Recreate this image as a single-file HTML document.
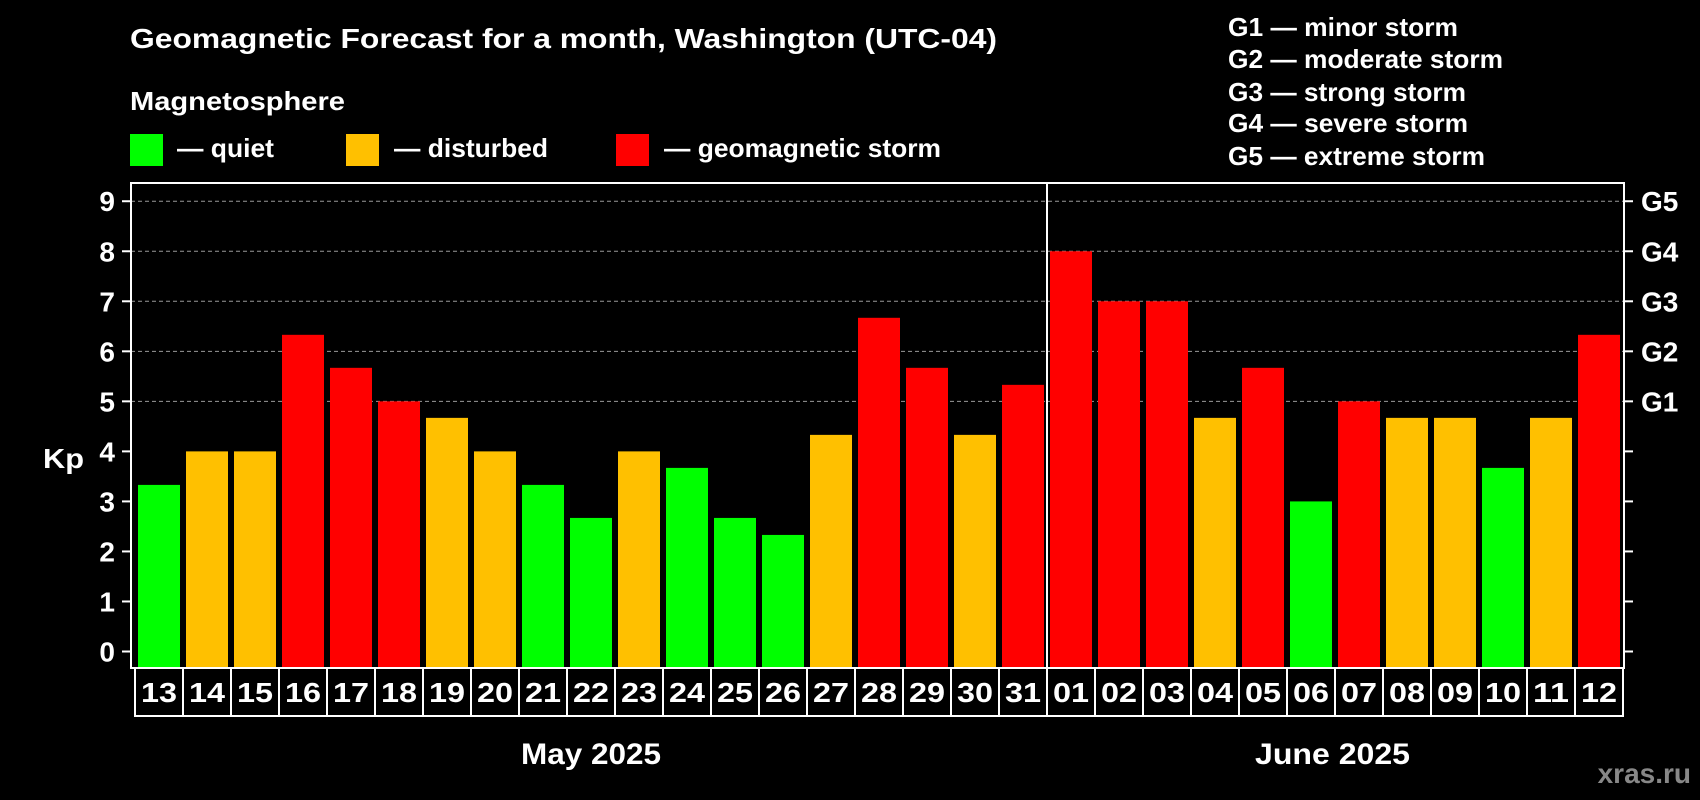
<!DOCTYPE html>
<html><head><meta charset="utf-8"><style>
html,body{margin:0;padding:0;background:#000;}
svg{display:block;font-family:"Liberation Sans",Arial,sans-serif;font-weight:bold;}
</style></head><body>
<svg id="chart" width="1700" height="800" viewBox="0 0 1700 800">
<rect width="1700" height="800" fill="#000"/>
<text x="130" y="48" font-size="28" fill="#fff" textLength="867" lengthAdjust="spacingAndGlyphs">Geomagnetic Forecast for a month, Washington (UTC-04)</text>
<text x="130" y="110" font-size="26" fill="#fff" textLength="215" lengthAdjust="spacingAndGlyphs">Magnetosphere</text>
<g><rect x="130" y="134" width="33" height="32" fill="#00ff00"/><text x="177" y="157" font-size="26" fill="#fff" textLength="97" lengthAdjust="spacingAndGlyphs">— quiet</text></g>
<g><rect x="346" y="134" width="33" height="32" fill="#ffc000"/><text x="394" y="157" font-size="26" fill="#fff" textLength="154" lengthAdjust="spacingAndGlyphs">— disturbed</text></g>
<g><rect x="616" y="134" width="33" height="32" fill="#ff0000"/><text x="664" y="157" font-size="26" fill="#fff" textLength="277" lengthAdjust="spacingAndGlyphs">— geomagnetic storm</text></g>
<g font-size="26" fill="#fff">
<text x="1228" y="36" textLength="230" lengthAdjust="spacingAndGlyphs">G1 — minor storm</text>
<text x="1228" y="68" textLength="275" lengthAdjust="spacingAndGlyphs">G2 — moderate storm</text>
<text x="1228" y="101" textLength="238" lengthAdjust="spacingAndGlyphs">G3 — strong storm</text>
<text x="1228" y="132" textLength="240" lengthAdjust="spacingAndGlyphs">G4 — severe storm</text>
<text x="1228" y="165" textLength="257" lengthAdjust="spacingAndGlyphs">G5 — extreme storm</text>
</g>
<g id="grid"></g>
<g id="bars"></g>
<g id="axes"></g>
<rect x="131" y="183" width="1493" height="485" fill="none" stroke="#fff" stroke-width="2"/>
<line x1="1047" y1="183" x2="1047" y2="716" stroke="#fff" stroke-width="2"/>
<text x="43" y="468" font-size="28" fill="#fff" textLength="41" lengthAdjust="spacingAndGlyphs">Kp</text>
<text x="521" y="764" font-size="30" fill="#fff" textLength="140" lengthAdjust="spacingAndGlyphs">May 2025</text>
<text x="1255" y="764" font-size="30" fill="#fff" textLength="155" lengthAdjust="spacingAndGlyphs">June 2025</text>
<text x="1691" y="783" font-size="28" fill="#888" text-anchor="end">xras.ru</text>
</svg>
<script>
const days = ["13","14","15","16","17","18","19","20","21","22","23","24","25","26","27","28","29","30","31","01","02","03","04","05","06","07","08","09","10","11","12"];
const kpValues = [3.33,4,4,6.33,5.67,5,4.67,4,3.33,2.67,4,3.67,2.67,2.33,4.33,6.67,5.67,4.33,5.33,8,7,7,4.67,5.67,3,5,4.67,4.67,3.67,4.67,6.33];
const yTicks = [0,1,2,3,4,5,6,7,8,9];
const gLabels = ["","","","","","G1","G2","G3","G4","G5"];
const NS="http://www.w3.org/2000/svg";
const y = v => 651.5 - v*50.03;
const xc = i => 159 + i*48;
function mk(tag, attrs, parent){const e=document.createElementNS(NS,tag);for(const k in attrs)e.setAttribute(k,attrs[k]);parent.appendChild(e);return e;}
const grid=document.getElementById('grid'), bars=document.getElementById('bars'), axes=document.getElementById('axes');
yTicks.forEach((t,k)=>{
  if(t>=5){const g=mk('line',{x1:131,x2:1624,y1:y(t),y2:y(t),stroke:'#999','stroke-width':1,'stroke-dasharray':'4,3'},grid);
  
  }
  const tl=mk('line',{x1:122,x2:131,y1:y(t),y2:y(t),stroke:'#fff','stroke-width':2},axes);
  
  
  const tr=mk('line',{x1:1624,x2:1633,y1:y(t),y2:y(t),stroke:'#fff','stroke-width':2},axes);
  
  
  const lab=mk('text',{x:115,y:y(t)+10,'font-size':28,fill:'#fff','text-anchor':'end'},axes);
  lab.textContent=t;
  
  
  if(gLabels[k]){const gl=mk('text',{x:1641,y:y(t)+10,'font-size':28,fill:'#fff'},axes);
  gl.textContent=gLabels[k];
  
  }
});
days.forEach((d,i)=>{
  const v=kpValues[i];
  const col = v>=5?'#ff0000':(v>=4?'#ffc000':'#00ff00');
  const b=mk('rect',{x:xc(i)-21,y:y(v),width:42,height:668-y(v),fill:col},bars);
  
  
  const box=mk('rect',{x:xc(i)-24,y:668,width:48,height:48,fill:'none',stroke:'#fff','stroke-width':2},axes);
  
  
  const t=mk('text',{x:xc(i)-18,y:702,'font-size':28,fill:'#fff',textLength:36,lengthAdjust:'spacingAndGlyphs'},axes);
  t.textContent=d;
  
  
});
</script>
</body></html>
